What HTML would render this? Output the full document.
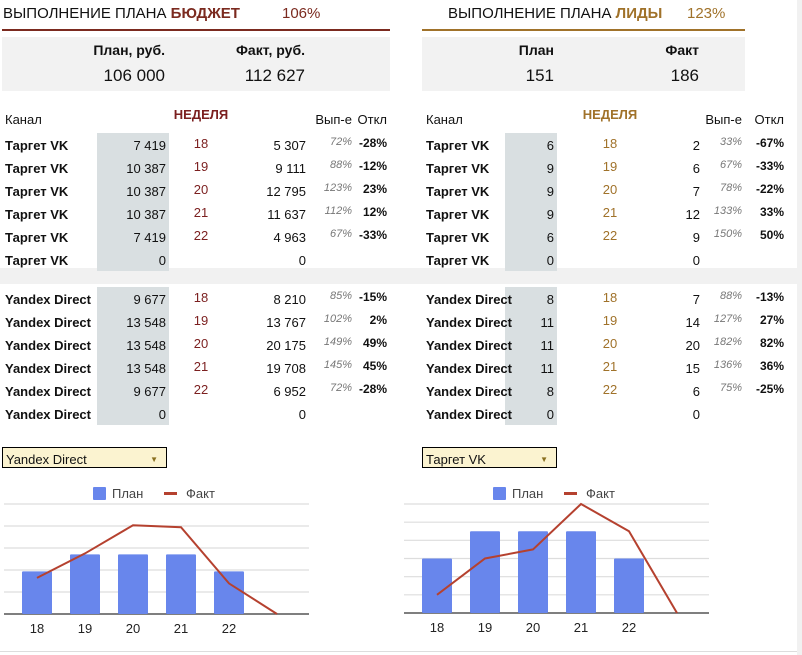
<!DOCTYPE html>
<html><head><meta charset="utf-8">
<style>
body{margin:0;width:802px;height:655px;background:#fff;position:relative;overflow:hidden;font-family:"Liberation Sans Narrow","Liberation Sans",sans-serif;color:#111;}
.a{position:absolute;white-space:nowrap;}
.r{text-align:right;}
.c{text-align:center;}
.t{font-size:15px;top:5px;}
.cell{font-size:13px;}
</style></head><body>
<div class="a" style="left:797px;top:0;width:5px;height:655px;background:#f1f1f1"></div>
<div class="a" style="left:0;top:651px;width:797px;height:1px;background:#ddd"></div>

<div class="a t" style="left:3px">ВЫПОЛНЕНИЕ ПЛАНА <b style="color:#7b2a1f">БЮДЖЕТ</b></div>
<div class="a t" style="left:282px;color:#7b2a1f">106%</div>
<div class="a" style="left:2px;top:29px;width:388px;height:2px;background:#7b2a1f"></div>
<div class="a" style="left:2px;top:37px;width:388px;height:54px;background:#f2f2f2"></div>
<div class="a r" style="left:60px;width:105px;top:42px;font-size:14px;font-weight:bold">План, руб.</div>
<div class="a r" style="left:60px;width:105px;top:66px;font-size:17px">106 000</div>
<div class="a r" style="left:200px;width:105px;top:42px;font-size:14px;font-weight:bold">Факт, руб.</div>
<div class="a r" style="left:200px;width:105px;top:66px;font-size:17px">112 627</div>

<div class="a t" style="left:448px">ВЫПОЛНЕНИЕ ПЛАНА <b style="color:#a0722a">ЛИДЫ</b></div>
<div class="a t" style="left:687px;color:#a0722a">123%</div>
<div class="a" style="left:422px;top:29px;width:323px;height:2px;background:#a0722a"></div>
<div class="a" style="left:422px;top:37px;width:323px;height:54px;background:#f2f2f2"></div>
<div class="a r" style="left:460px;width:94px;top:42px;font-size:14px;font-weight:bold">План</div>
<div class="a r" style="left:460px;width:94px;top:66px;font-size:17px">151</div>
<div class="a r" style="left:600px;width:99px;top:42px;font-size:14px;font-weight:bold">Факт</div>
<div class="a r" style="left:600px;width:99px;top:66px;font-size:17px">186</div>

<div class="a" style="left:0;top:268px;width:797px;height:16px;background:#f1f1f1"></div>

<div class="a" style="left:2px;top:447px;width:165px;height:21px;background:#fbf3d0;border:1px solid #000;font-size:13px;line-height:23px;padding-left:3px;box-sizing:border-box">Yandex Direct<span style="position:absolute;right:8px;top:0;font-size:8px;color:#8a7020">▼</span></div>
<div class="a" style="left:422px;top:447px;width:135px;height:21px;background:#fbf3d0;border:1px solid #000;font-size:13px;line-height:23px;padding-left:3px;box-sizing:border-box">Таргет VK<span style="position:absolute;right:8px;top:0;font-size:8px;color:#8a7020">▼</span></div>

<div id="tables"></div>
<svg id="charts" width="802" height="655" style="position:absolute;left:0;top:0"></svg>

<script>
// table data
const weeks=[18,19,20,21,22,""];
const bVkPlan=["7 419","10 387","10 387","10 387","7 419","0"];
const bVkFact=["5 307","9 111","12 795","11 637","4 963","0"];
const bVkPct=["72%","88%","123%","112%","67%",""];
const bVkDev=["-28%","-12%","23%","12%","-33%",""];
const bYdPlan=["9 677","13 548","13 548","13 548","9 677","0"];
const bYdFact=["8 210","13 767","20 175","19 708","6 952","0"];
const bYdPct=["85%","102%","149%","145%","72%",""];
const bYdDev=["-15%","2%","49%","45%","-28%",""];
const lVkPlan=["6","9","9","9","6","0"];
const lVkFact=["2","6","7","12","9","0"];
const lVkPct=["33%","67%","78%","133%","150%",""];
const lVkDev=["-67%","-33%","-22%","33%","50%",""];
const lYdPlan=["8","11","11","11","8","0"];
const lYdFact=["7","14","20","15","6","0"];
const lYdPct=["88%","127%","182%","136%","75%",""];
const lYdDev=["-13%","27%","82%","36%","-25%",""];

// chart data
const cats=["18","19","20","21","22",""];
const budgetPlan=[9677,13548,13548,13548,9677,0];
const budgetFact=[8210,13767,20175,19708,6952,0];
const budgetTicks=[0,5000,10000,15000,20000,25000];
const leadsPlan=[6,9,9,9,6,0];
const leadsFact=[2,6,7,12,9,0];
const leadsTicks=[0,2,4,6,8,10,12];

const T=document.getElementById('tables');
function txt(x,y,w,s,cls,style,name){
  const d=document.createElement('div');
  d.className='a cell '+cls;
  d.style.left=x+'px';d.style.top=y+'px';d.style.width=w+'px';
  if(style)d.style.cssText+=style;
  d.textContent=s;
  
  
  T.appendChild(d);
}
function box(x,y,w,h,name){
  const d=document.createElement('div');
  d.className='a';
  d.style.cssText=`left:${x}px;top:${y}px;width:${w}px;height:${h}px;background:#d9dfe1`;
  
  
  T.appendChild(d);
}
function table(o){
  txt(o.x0,112,80,'Канал','','',o.p+'-channel-header');
  txt(o.wk-40,107,80,'НЕДЕЛЯ','c','font-weight:bold;color:'+o.col,o.p+'-week-header');
  txt(o.pct-50,112,50,'Вып-е','r','',o.p+'-completion-header');
  txt(o.dev-50,112,50,'Откл','r','',o.p+'-deviation-header');
  o.groups.forEach((g,gi)=>{
    const top=gi==0?133:287;
    box(o.gx,top,o.gw,138,o.p+'-plan-column-'+gi);
    for(let i=0;i<6;i++){
      const y=top+3+i*23;
      txt(o.x0,y+2,90,g.name,'','font-weight:bold',o.p+'-channel-name');
      txt(o.planR-80,y+2,80,g.plan[i],'r','',o.p+'-plan-value');
      txt(o.wk-20,y,40,String(weeks[i]),'c','color:'+o.col,o.p+'-week-number');
      txt(o.factR-80,y+2,80,g.fact[i],'r','',o.p+'-fact-value');
      txt(o.pct-50,y,50,g.pct[i],'r','font-style:italic;color:#777;font-size:11px',o.p+'-completion-value');
      txt(o.dev-50,y,50,g.dev[i],'r','font-weight:bold;font-size:12px',o.p+'-deviation-value');
    }
  });
}
table({p:'budget',x0:5,gx:97,gw:72,planR:166,wk:201,factR:306,pct:352,dev:387,col:'#7b1f1f',
 groups:[{name:'Таргет VK',plan:bVkPlan,fact:bVkFact,pct:bVkPct,dev:bVkDev},{name:'Yandex Direct',plan:bYdPlan,fact:bYdFact,pct:bYdPct,dev:bYdDev}]});
table({p:'leads',x0:426,gx:505,gw:52,planR:554,wk:610,factR:700,pct:742,dev:784,col:'#a0722a',
 groups:[{name:'Таргет VK',plan:lVkPlan,fact:lVkFact,pct:lVkPct,dev:lVkDev},{name:'Yandex Direct',plan:lYdPlan,fact:lYdPlan===null?[]:lYdFact,pct:lYdPct,dev:lYdDev}]});

const S=document.getElementById('charts');
const NS='http://www.w3.org/2000/svg';
function el(tag,attrs){const e=document.createElementNS(NS,tag);for(const k in attrs)e.setAttribute(k,attrs[k]);S.appendChild(e);return e;}
function chart(p,x0,xr,yTop,yBase,ticks,plan,fact){
  const max=ticks[ticks.length-1];
  const y=v=>yBase-(v/max)*(yBase-yTop);
  const x=i=>x0+i*48;
  ticks.forEach(t=>{const l=el('line',{x1:x0-33,x2:xr,y1:y(t),y2:y(t),stroke:t===0?'#555':'#ddd','stroke-width':t===0?1.5:1.2});
    
    });
  plan.forEach((v,i)=>{if(!v)return;const r=el('rect',{x:x(i)-15,y:y(v),width:30,height:yBase-y(v),fill:'#6886ec',rx:1});
    
    });
  const pl=el('polyline',{points:fact.map((v,i)=>x(i)+','+y(v)).join(' '),fill:'none',stroke:'#b5412f','stroke-width':2});
  
  
  cats.forEach((c,i)=>{const t=el('text',{x:x(i),y:yBase+19,'text-anchor':'middle','font-size':13,fill:'#222','font-family':'Liberation Sans'});t.textContent=c;
    
    });
  const lx=x0+56;
  const lr=el('rect',{x:lx,y:487,width:13,height:13,fill:'#6886ec',rx:1});
  
  
  const lt=el('text',{x:lx+19,y:498,'font-size':13,fill:'#444','font-family':'Liberation Sans'});lt.textContent='План';
  
  
  const ll=el('rect',{x:lx+71,y:492,width:13,height:3,fill:'#b5412f'});
  
  
  const lf=el('text',{x:lx+93,y:498,'font-size':13,fill:'#444','font-family':'Liberation Sans'});lf.textContent='Факт';
  
  
}
chart('budget',37,309,504,614,budgetTicks,budgetPlan,budgetFact);
chart('leads',437,709,504,613,leadsTicks,leadsPlan,leadsFact);
</script>
</body></html>
